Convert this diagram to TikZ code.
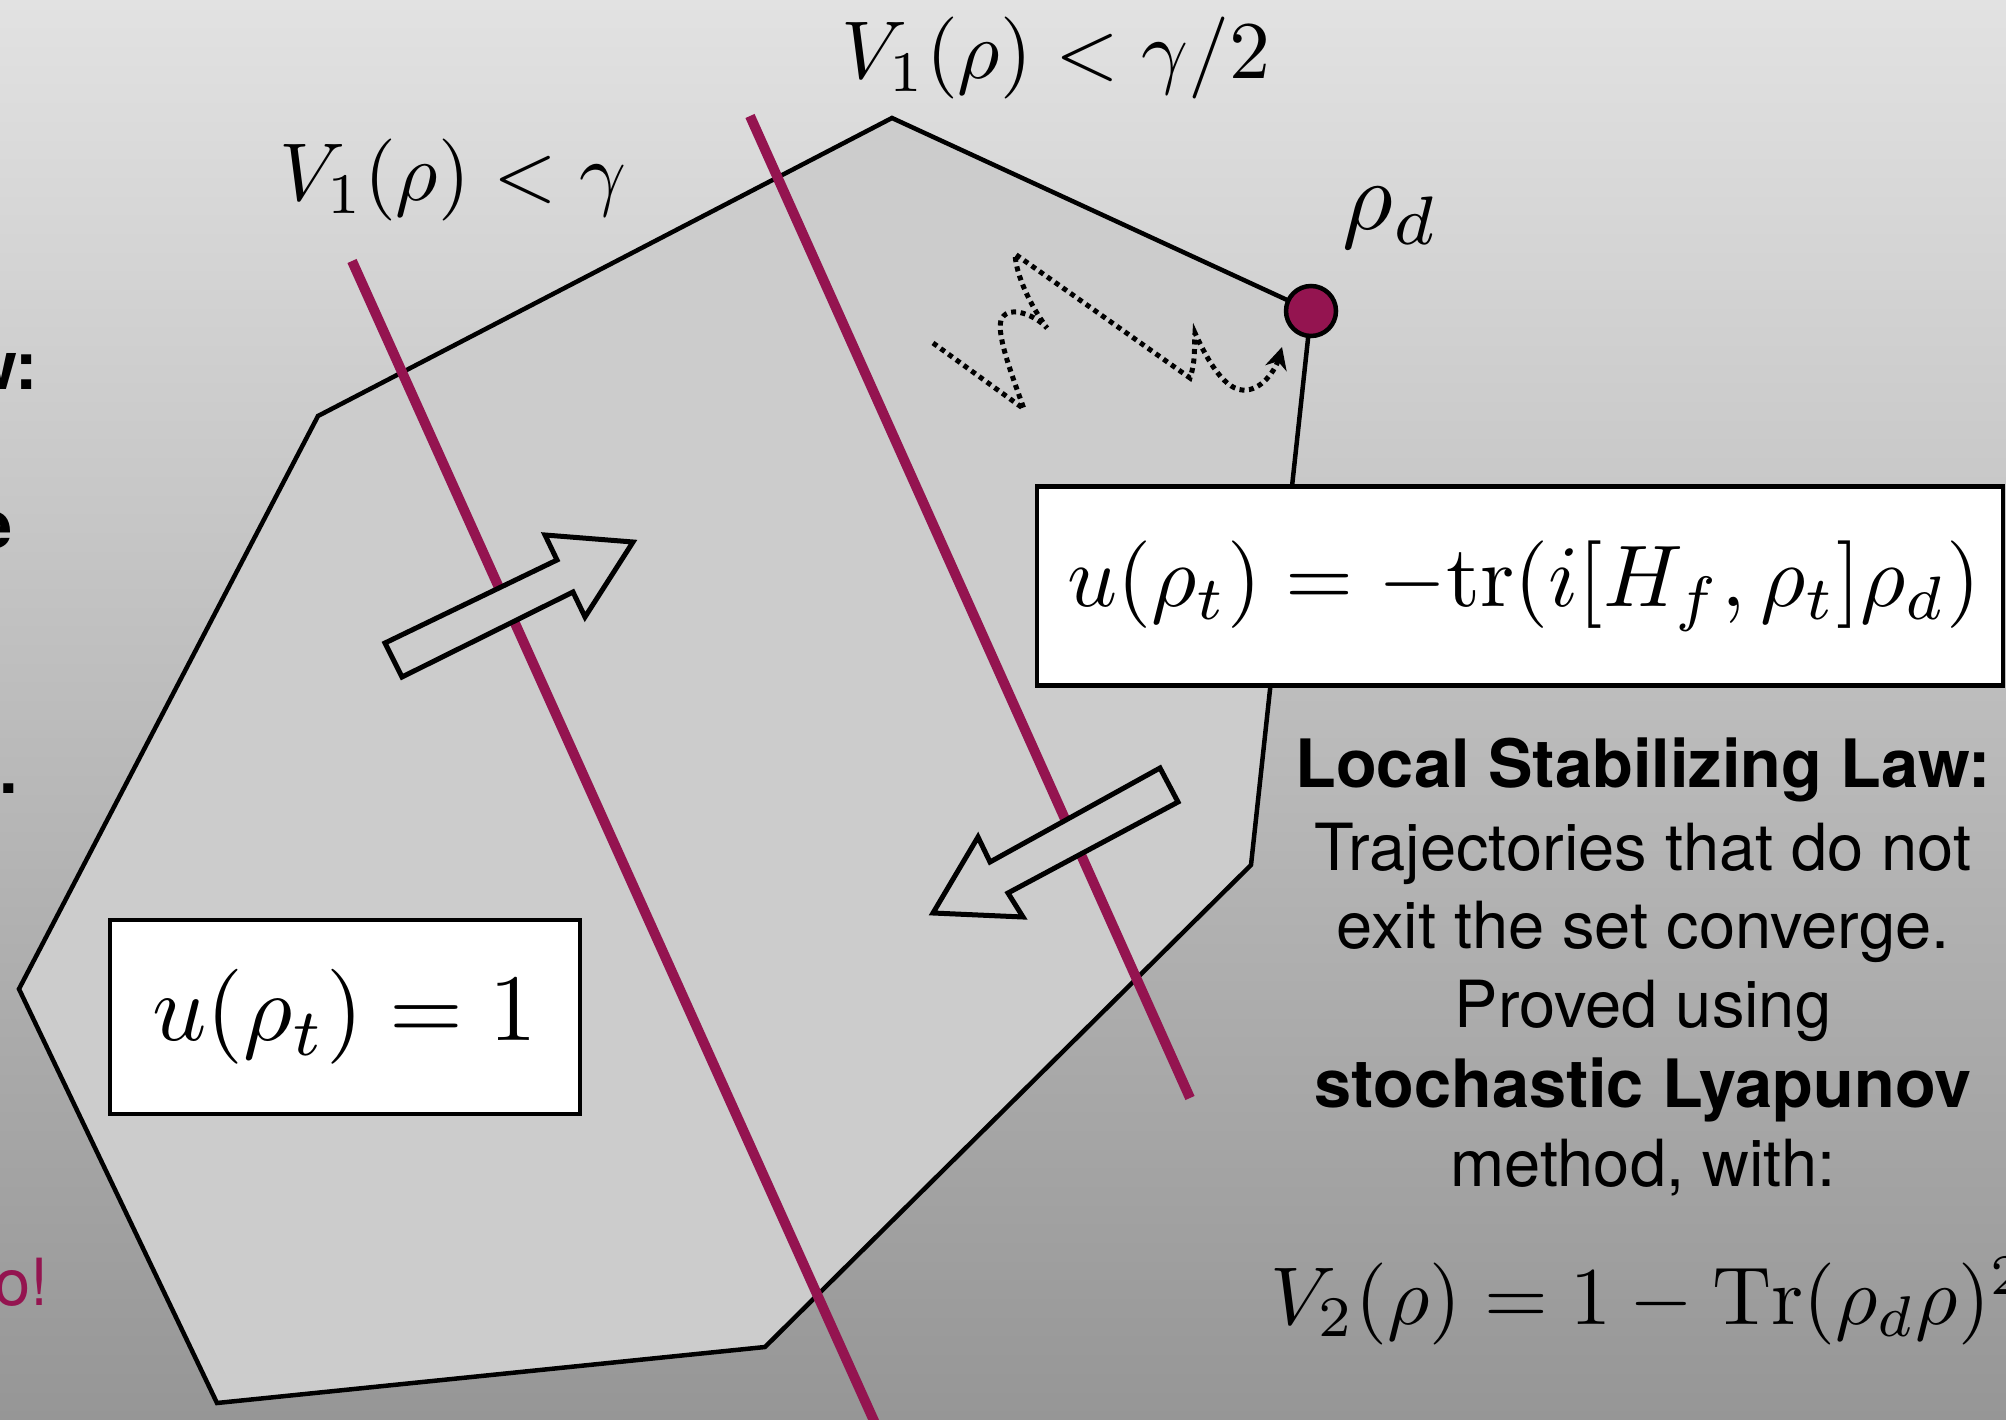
\documentclass[tikz,border=0pt]{standalone}
\usepackage{fontspec}
\newfontfamily\heros{TeX Gyre Heros}
\usetikzlibrary{arrows.meta}
\definecolor{mag}{RGB}{148,20,80}
\definecolor{setgray}{RGB}{204,204,204}
\definecolor{bgtop}{RGB}{226,226,226}
\definecolor{bgbot}{RGB}{150,150,150}
\begin{document}
\begin{tikzpicture}[x=1pt,y=-1pt,
  region/.style={draw=black,line width=4.5pt,fill=setgray,line join=miter},
  levelline/.style={draw=mag,line width=10pt},
  blockarrow/.style={draw=black,line width=5pt,fill=setgray,line join=miter},
  lawbox/.style={draw=black,line width=4.5pt,fill=white,inner sep=0pt},
  trajline/.style={line width=5pt,dash pattern=on 5pt off 4.5pt,-{Stealth[length=22pt,width=22pt]}},
  mathlbl/.style={inner sep=0pt,scale=8.2},
  bodytext/.style={inner sep=0pt,font=\heros\fontsize{65}{80}\selectfont},
  boldtext/.style={inner sep=0pt,font=\heros\bfseries\fontsize{66.7}{80}\selectfont},
]
\fill[top color=bgtop,bottom color=bgbot] (0,0) rectangle (2006,1420);
\useasboundingbox (0,0) rectangle (2006,1420);

% left-edge fragments
\node[boldtext, anchor=base east] (f1) at (38,390) {w:};
\node[boldtext, anchor=base east] (f2) at (13,548) {e};
\node[boldtext, anchor=base east] (f3) at (18,793) {.};
\node[bodytext, text=mag, anchor=base east] (f4) at (49,1305) {o!};

% region
\coordinate (A) at (892,118);
\coordinate (B) at (1311,311);
\coordinate (C) at (1251,865);
\coordinate (D) at (765,1347);
\coordinate (E) at (217,1403);
\coordinate (F) at (19,989);
\coordinate (G) at (318,416);
\draw[region] (A) -- (B) -- (C) -- (D) -- (E) -- (F) -- (G) -- cycle;

% level lines
\coordinate (m1a) at (352,261);
\coordinate (m1b) at (879,1432);
\coordinate (m2a) at (750,116);
\coordinate (m2b) at (1190,1098);
\draw[levelline] (m1a) -- (m1b);
\draw[levelline] (m2a) -- (m2b);

% block arrows
\draw[blockarrow] (385,643) -- (557,560) -- (545,535) -- (633,542) -- (585,617) -- (573,592) -- (402,677) -- cycle;
\draw[blockarrow] (1160,768) -- (990,862) -- (978,837) -- (933,913) -- (1023,917) -- (1008,893) -- (1178,802) -- cycle;

% trajectory
\coordinate (s0) at (933,343);
\draw[trajline] (s0) -- (1024,409) .. controls (1010,370) and (995,330) .. (1002,318)
  .. controls (1010,305) and (1035,315) .. (1047,328)
  .. controls (1030,305) and (1016,275) .. (1015,254)
  -- (1190,378) .. controls (1196,360) and (1194,345) .. (1195,333)
  .. controls (1205,355) and (1222,388) .. (1242,390)
  .. controls (1262,392) and (1276,368) .. (1282,347);

% target state
\node[circle, draw=black, line width=4.5pt, fill=mag, minimum size=50pt, inner sep=0pt] (rhodot) at (B) {};
\node[mathlbl, scale=9.8/8.2, anchor=base west] (rhod) at (1341,230) {$\rho_d$};

% labels
\node[mathlbl, anchor=base] (lvl2) at (1056,79) {$V_1(\rho) < \gamma/2$};
\node[mathlbl, anchor=base] (lvl1) at (453,201) {$V_1(\rho) < \gamma$};

% boxes
\node[lawbox, minimum width=966pt, minimum height=199pt] (trbox) at (1520,586) {};
\node[inner sep=0pt, scale=8.75] (trlaw) at ([xshift=4pt]trbox.center) {$u(\rho_t) = -\mathrm{tr}(i[H_f,\rho_t]\rho_d)$};
\node[lawbox, minimum width=470pt, minimum height=194pt] (onebox) at (345,1017) {};
\node[inner sep=0pt, scale=9.5] (onelaw) at (onebox.center) {$u(\rho_t) = 1$};

% text block
\node[boldtext, anchor=base] (t1) at (1643,787) {Local Stabilizing Law:};
\node[bodytext, anchor=base] (t2) at (1643,870) {Trajectories that do not};
\node[bodytext, anchor=base] (t3) at (1643,948) {exit the set converge.};
\node[bodytext, anchor=base] (t4) at (1643,1027) {Proved using};
\node[boldtext, anchor=base] (t5) at (1643,1107) {stochastic Lyapunov};
\node[bodytext, anchor=base] (t6) at (1643,1186) {method, with:};

\node[mathlbl, anchor=base west] (v2) at (1269,1324) {$V_2(\rho) = 1 - \mathrm{Tr}(\rho_d\rho)^2$};
\end{tikzpicture}
\end{document}
